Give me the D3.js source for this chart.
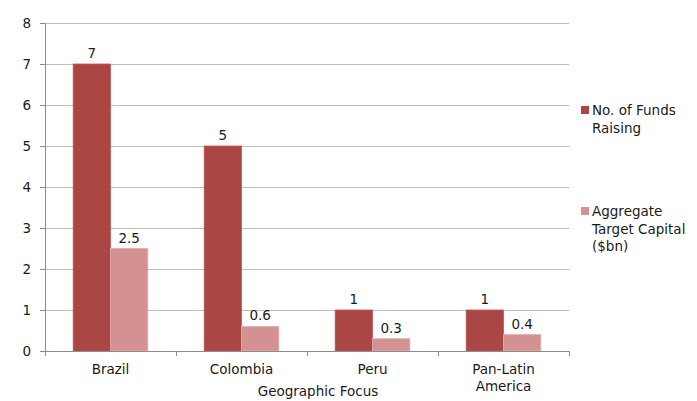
<!DOCTYPE html>
<html>
<head>
<meta charset="utf-8">
<script src="https://d3js.org/d3.v7.min.js"></script>
<style>
    html, body { margin: 0; padding: 0; background: #fff; }
    svg text { font-family: "DejaVu Sans", sans-serif; fill: #1a1a1a; }
</style>
</head>
<body>
<div id="chart"></div>
<script>
'use strict';

// ─── DATA ────────────────────────────────────────────────────

var categories = [['Brazil'], ['Colombia'], ['Peru'], ['Pan-Latin', 'America']];
var fundsRaising = [7, 5, 1, 1];
var targetCapital = [2.5, 0.6, 0.3, 0.4];
var seriesNames = [['No. of Funds', 'Raising'], ['Aggregate', 'Target Capital', '($bn)']];
var yTicks = [0, 1, 2, 3, 4, 5, 6, 7, 8];
var axisTitle = 'Geographic Focus';

// ─── LAYOUT ──────────────────────────────────────────────────

var width = 697, height = 401;
var margin = { top: 23, right: 128, bottom: 50, left: 45 };
var colors = ['#AA4643', '#D39191'];
var fontSize = 13.5;

var svg = d3.select('#chart')
    .append('svg')
    .attr('width', width)
    .attr('height', height);

var plotW = width - margin.left - margin.right;
var plotH = height - margin.top - margin.bottom;

var g = svg.append('g')
    .attr('transform', 'translate(' + margin.left + ',' + margin.top + ')');

var keys = categories.map(function(c) { return c.join(' '); });

var x = d3.scaleBand()
    .domain(keys)
    .range([0, plotW])
    .paddingInner(0)
    .paddingOuter(0);

var inner = d3.scaleBand()
    .domain([0, 1])
    .range([0, x.bandwidth()])
    .paddingInner(0)
    .paddingOuter(0.755);

var y = d3.scaleLinear()
    .domain([0, 8])
    .range([plotH, 0]);

// gridlines
g.append('g')
    .selectAll('line')
    .data(yTicks.slice(1))
    .enter()
    .append('line')
    .attr('x1', 0)
    .attr('x2', plotW)
    .attr('y1', function(d) { return Math.round(y(d)) + 0.5; })
    .attr('y2', function(d) { return Math.round(y(d)) + 0.5; })
    .attr('stroke', '#BEBEBE')
    .attr('stroke-width', 1);

// bars
var series = [fundsRaising, targetCapital];

series.forEach(function(values, si) {
    var grp = g.append('g');
    grp.selectAll('rect')
        .data(values)
        .enter()
        .append('rect')
        .attr('x', function(d, i) { return x(keys[i]) + inner(si); })
        .attr('y', function(d) { return y(d); })
        .attr('width', inner.bandwidth())
        .attr('height', function(d) { return plotH - y(d); })
        .attr('fill', colors[si])
        .attr('stroke', si === 0 ? '#B85A57' : '#E0AFAE')
        .attr('stroke-width', 0.8);

    grp.selectAll('text')
        .data(values)
        .enter()
        .append('text')
        .attr('x', function(d, i) { return x(keys[i]) + inner(si) + inner.bandwidth() / 2; })
        .attr('y', function(d) { return y(d) - 6; })
        .attr('text-anchor', 'middle')
        .attr('font-size', fontSize)
        .text(function(d) { return d; });
});

// y axis
var yAxis = g.append('g')
    .call(d3.axisLeft(y).tickValues(yTicks).tickSize(5).tickPadding(9));
yAxis.select('.domain').attr('stroke', '#8C8C8C');
yAxis.selectAll('.tick line').attr('stroke', '#8C8C8C');
yAxis.selectAll('text')
    .attr('font-size', fontSize)
    .attr('font-family', '"DejaVu Sans", sans-serif')
    .attr('fill', '#1a1a1a');

// x axis: ticks at category boundaries
var xAxis = g.append('g')
    .attr('transform', 'translate(0,' + plotH + ')');
xAxis.append('line')
    .attr('x1', 0)
    .attr('x2', plotW)
    .attr('y1', 0.5)
    .attr('y2', 0.5)
    .attr('stroke', '#8C8C8C');
xAxis.selectAll('line.tk')
    .data(d3.range(keys.length + 1))
    .enter()
    .append('line')
    .attr('class', 'tk')
    .attr('x1', function(i) { return Math.round(i * x.step()) + 0.5; })
    .attr('x2', function(i) { return Math.round(i * x.step()) + 0.5; })
    .attr('y1', 0)
    .attr('y2', 5)
    .attr('stroke', '#8C8C8C');

var xLabels = xAxis.selectAll('text.cat')
    .data(categories)
    .enter()
    .append('text')
    .attr('class', 'cat')
    .attr('text-anchor', 'middle')
    .attr('font-size', fontSize)
    .attr('transform', function(d, i) {
        return 'translate(' + (x(keys[i]) + x.bandwidth() / 2) + ',23)';
    });
xLabels.selectAll('tspan')
    .data(function(d) { return d; })
    .enter()
    .append('tspan')
    .attr('x', 0)
    .attr('dy', function(d, i) { return i === 0 ? 0 : 17; })
    .text(function(d) { return d; });

// axis title (sits at the very bottom edge, as in the original)
svg.append('text')
    .attr('x', 318)
    .attr('y', 396)
    .attr('text-anchor', 'middle')
    .attr('font-size', fontSize)
    .text(axisTitle);

// legend
var legendY = [106, 207];
var legend = svg.append('g');
seriesNames.forEach(function(lines, si) {
    var item = legend.append('g')
        .attr('transform', 'translate(581,' + legendY[si] + ')');
    item.append('rect')
        .attr('width', 8)
        .attr('height', 8)
        .attr('fill', colors[si]);
    var t = item.append('text')
        .attr('font-size', fontSize)
        .attr('x', 11)
        .attr('y', 9);
    t.selectAll('tspan')
        .data(lines)
        .enter()
        .append('tspan')
        .attr('x', 11)
        .attr('dy', function(d, i) { return i === 0 ? 0 : 17.5; })
        .text(function(d) { return d; });
});
</script>
</body>
</html>
